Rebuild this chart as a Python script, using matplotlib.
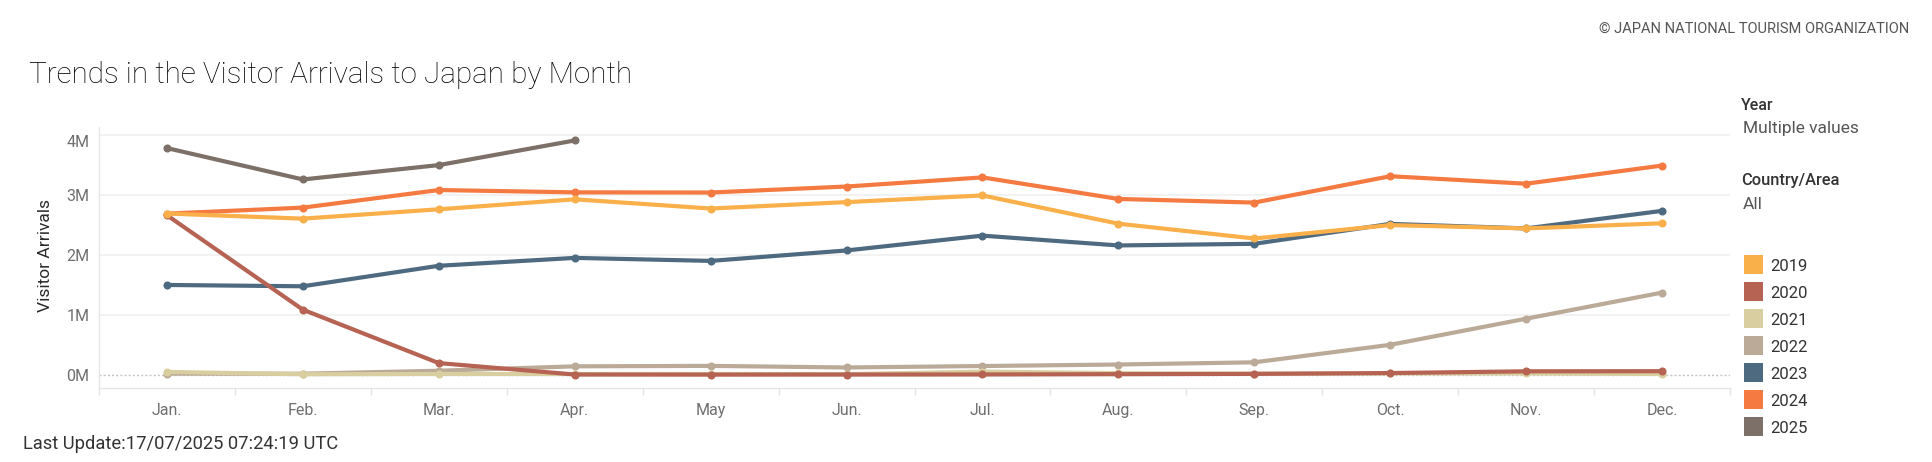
import matplotlib
matplotlib.use("Agg")
import matplotlib.pyplot as plt
from matplotlib.patches import Rectangle
from matplotlib.ticker import FixedLocator

# monthly visitor arrivals (JNTO)
months = ['Jan.', 'Feb.', 'Mar.', 'Apr.', 'May', 'Jun.',
          'Jul.', 'Aug.', 'Sep.', 'Oct.', 'Nov.', 'Dec.']
years = ['2019', '2020', '2021', '2022', '2023', '2024', '2025']

v2019 = [2689339, 2604322, 2760136, 2926685, 2773091, 2880041,
         2991189, 2520134, 2272883, 2496568, 2441274, 2526387]
v2020 = [2661022, 1085147, 193658, 2917, 1663, 2565,
         3782, 8658, 13684, 27386, 56673, 58673]
v2021 = [46461, 7355, 12276, 10849, 10035, 9250,
         51055, 25916, 17720, 22113, 20711, 12084]
v2022 = [17766, 16719, 66121, 139548, 147046, 120430,
         144578, 169902, 206641, 498646, 934599, 1370114]
v2023 = [1497472, 1475455, 1817500, 1949236, 1899176, 2073300,
         2320600, 2156900, 2184300, 2516500, 2441300, 2734000]
v2024 = [2688100, 2788000, 3081600, 3042900, 3040100, 3140000,
         3292500, 2933000, 2872200, 3312300, 3187000, 3489800]
v2025 = [3781600, 3258100, 3497600, 3908900]

series = [v2019, v2020, v2021, v2022, v2023, v2024, v2025]
colors = ['#F9AF4A', '#B66353', '#D9CE9F', '#BBAA97', '#4E6A81', '#F47A42', '#7C7068']

y_ticks = [0, 1e6, 2e6, 3e6, 4e6]
y_labels = ['0M', '1M', '2M', '3M', '4M']

W, H = 1932, 462
FONT = ['Roboto', 'DejaVu Sans']
plt.rcParams['font.family'] = FONT


def fx(px):
    return px / W


def fy(py):
    return 1 - py / H


fig = plt.figure(figsize=(W / 100, H / 100), dpi=100)
fig.patch.set_facecolor('white')
ax = fig.add_axes([fx(99), fy(388), fx(1730) - fx(99), fy(126.7) - fy(388)])

# grid and zero line
for yv in y_ticks[1:]:
    ax.axhline(yv, color='#EFEFEF', lw=1.1, zorder=0)
ax.axhline(0, color='#C4C4C4', lw=1.0, ls=(0, (1.5, 1.5)), zorder=0.5)

# later years first so 2019 sits on top
for i in range(len(years) - 1, -1, -1):
    vals = series[i]
    ax.plot(range(len(vals)), vals, color=colors[i], lw=3.0,
            marker='o', markersize=4.8, solid_capstyle='round', zorder=2 + (len(years) - i))

ax.set_xlim(-0.5, 11.5)
ax.set_ylim(-0.222e6, 4.1385e6)

ax.set_xticks(range(12))
ax.set_xticklabels(months)
ax.xaxis.set_minor_locator(FixedLocator([k - 0.5 for k in range(13)]))
ax.tick_params(axis='x', which='major', length=0, pad=11, labelsize=11.5, labelcolor='#6E6E6E')
ax.tick_params(axis='x', which='minor', length=5, width=1, color='#E3E3E3', direction='out')
ax.set_yticks(y_ticks)
ax.set_yticklabels(y_labels)
ax.tick_params(axis='y', length=0, pad=7, labelsize=11.5, labelcolor='#6E6E6E')
ax.get_yticklabels()[-1].set_va('top')

for s in ['top', 'right']:
    ax.spines[s].set_visible(False)
for s in ['left', 'bottom']:
    ax.spines[s].set_color('#E6E6E6')
    ax.spines[s].set_linewidth(1.0)

ax.set_ylabel('Visitor Arrivals', fontsize=12.5, color='#2A2A2A', va='center')
ax.yaxis.set_label_coords(fx(45.5), fy(256), transform=fig.transFigure)

# texts around
fig.text(fx(29), fy(83), 'Trends in the Visitor Arrivals to Japan by Month',
         fontsize=21.3, fontweight='light', color='#000000', va='baseline')
fig.text(fx(1909), fy(32.7), '\u00a9 JAPAN NATIONAL TOURISM ORGANIZATION',
         fontsize=10.5, color='#555555', ha='right', va='baseline')
fig.text(fx(22.7), fy(449.3), 'Last Update:17/07/2025 07:24:19 UTC',
         fontsize=13.2, color='#333333', va='baseline')

fig.text(fx(1741), fy(110), 'Year', fontsize=11.5, fontweight='medium', color='#333333', va='baseline')
fig.text(fx(1743), fy(133), 'Multiple values', fontsize=12.5, color='#555555', va='baseline')
fig.text(fx(1741), fy(185), 'Country/Area', fontsize=11.8, fontweight='medium', color='#333333', va='baseline')
fig.text(fx(1743), fy(209), 'All', fontsize=12.5, color='#555555', va='baseline')

# colour legend
for i, yr in enumerate(years):
    cy = 264.3 + 27 * i
    fig.patches.append(Rectangle((fx(1744), fy(cy + 9.5)), 19 / W, 19 / H,
                                 transform=fig.transFigure, facecolor=colors[i],
                                 edgecolor='none', figure=fig))
    fig.text(fx(1770), fy(cy + 7), yr, fontsize=12, color='#333333', va='baseline')

fig.savefig('out.png', dpi=100, facecolor='white')
